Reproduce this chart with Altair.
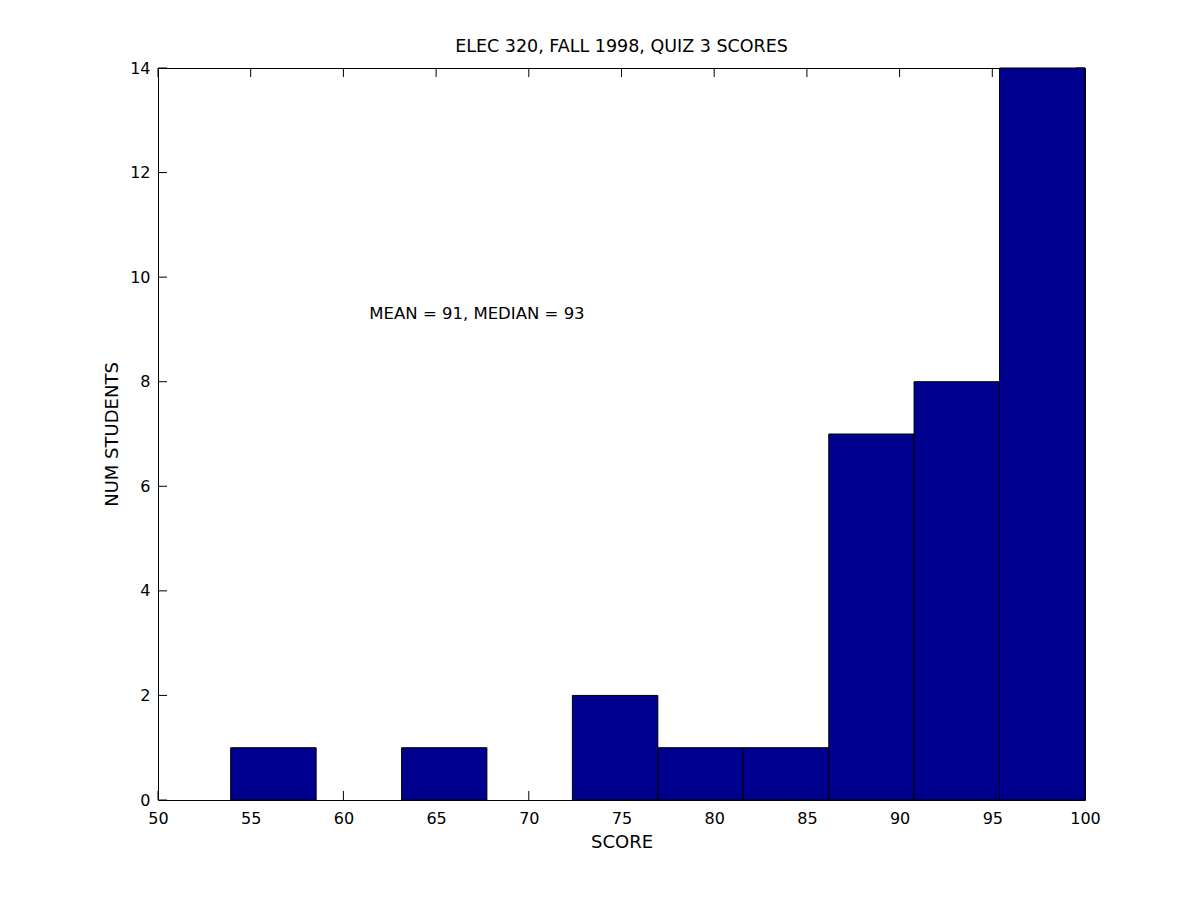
import altair as alt
import pandas as pd

# Histogram data (MATLAB hist with 10 bins spanning the score range)
bin_left = [53.92, 58.53, 63.14, 67.74, 72.35, 76.96, 81.57, 86.18, 90.78, 95.39]
bin_right = [58.53, 63.14, 67.74, 72.35, 76.96, 81.57, 86.18, 90.78, 95.39, 100.0]
counts = [1, 0, 1, 0, 2, 1, 1, 7, 8, 14]

x_ticks = [50, 55, 60, 65, 70, 75, 80, 85, 90, 95, 100]
y_ticks = [0, 2, 4, 6, 8, 10, 12, 14]

title_text = "ELEC 320, FALL 1998, QUIZ 3 SCORES"
x_label = "SCORE"
y_label = "NUM STUDENTS"
note_text = ["MEAN = 91, MEDIAN = 93"]
note_x = [61.4]
note_y = [9.3]

W, H = 927, 732
TICK = 9
FONT = "DejaVu Sans"
FS = 16
BAR = "#00008F"

bars = pd.DataFrame({"lo": bin_left, "hi": bin_right, "n": counts})
bars = bars[bars["n"] > 0]
xt = pd.DataFrame({"v": x_ticks})
yt = pd.DataFrame({"v": y_ticks})
note = pd.DataFrame({"x": note_x, "y": note_y, "t": note_text})

xscale = alt.Scale(domain=[50, 100], nice=False, zero=False)
yscale = alt.Scale(domain=[0, 14], nice=False)

xaxis = alt.Axis(values=x_ticks, tickSize=0, domain=False, grid=False,
                 labelPadding=10, labelFont=FONT, labelFontSize=FS, labelColor="black",
                 title=x_label, titleFont=FONT, titleFontSize=18, titleFontWeight="normal",
                 titleColor="black", titlePadding=7, labelFlush=False)
yaxis = alt.Axis(values=y_ticks, tickSize=0, domain=False, grid=False,
                 labelPadding=8, labelFont=FONT, labelFontSize=FS, labelColor="black",
                 title=y_label, titleFont=FONT, titleFontSize=18, titleFontWeight="normal",
                 titleColor="black", titlePadding=8, labelFlush=False)

base_x = alt.X("v:Q", scale=xscale, axis=xaxis)
base_y = alt.Y("v:Q", scale=yscale, axis=yaxis)

tick_bottom = alt.Chart(xt).mark_rule(color="black", strokeWidth=1).encode(
    x=base_x, y=alt.value(H), y2=alt.value(H - TICK))
tick_top = alt.Chart(xt).mark_rule(color="black", strokeWidth=1).encode(
    x=alt.X("v:Q", scale=xscale), y=alt.value(0), y2=alt.value(TICK))
tick_left = alt.Chart(yt).mark_rule(color="black", strokeWidth=1).encode(
    y=base_y, x=alt.value(0), x2=alt.value(TICK))
tick_right = alt.Chart(yt).mark_rule(color="black", strokeWidth=1).encode(
    y=alt.Y("v:Q", scale=yscale), x=alt.value(W), x2=alt.value(W - TICK))

rects = alt.Chart(bars).mark_rect(fill=BAR, stroke="black", strokeWidth=1).encode(
    x=alt.X("lo:Q", scale=xscale), x2="hi:Q",
    y=alt.Y("n:Q", scale=yscale), y2=alt.datum(0))

label = alt.Chart(note).mark_text(align="left", baseline="middle", font=FONT,
                                   fontSize=16.5, color="black").encode(
    x=alt.X("x:Q", scale=xscale), y=alt.Y("y:Q", scale=yscale), text="t:N")

chart = alt.layer(tick_bottom, tick_top, tick_left, tick_right, rects, label).properties(
    width=W, height=H,
    title=alt.TitleParams(title_text, font=FONT, fontSize=17.5, fontWeight="normal",
                          color="black", offset=5, anchor="middle"),
    autosize=alt.AutoSizeParams(type="none"),
    padding={"left": 150, "top": 60, "right": 107, "bottom": 93},
    background="white",
).configure_view(stroke="black", strokeWidth=1)

chart.save("out.html", embed_options={"renderer": "svg", "actions": False})
